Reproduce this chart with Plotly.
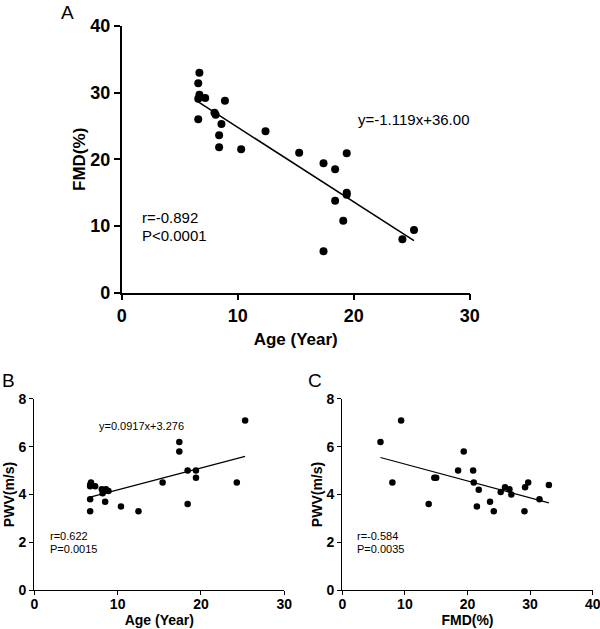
import plotly.graph_objects as go

FONT = "Liberation Sans, Arial, Helvetica, sans-serif"

# Panel A: Age vs FMD
age_a = [6.7, 6.6, 6.7, 6.6, 7.2, 6.6, 8.9, 8.0, 8.1, 8.6, 8.4, 8.4, 10.3, 12.4,
         15.3, 17.4, 18.4, 19.4, 18.4, 19.4, 19.4, 19.1, 17.4, 24.2, 25.2]
fmd_a = [33.0, 31.4, 29.7, 29.1, 29.2, 26.0, 28.8, 27.0, 26.7, 25.3, 23.6, 21.8, 21.5, 24.2,
         21.0, 19.4, 18.5, 20.9, 13.8, 15.0, 14.7, 10.8, 6.2, 8.0, 9.4]

# Panel B: Age vs PWV
age_b = [6.8, 6.7, 6.7, 7.3, 6.7, 6.7, 8.1, 8.6, 8.4, 8.2, 8.5, 8.9, 10.4, 12.5,
         15.4, 17.4, 17.4, 18.4, 19.4, 19.4, 18.4, 24.3, 25.3]
pwv_b = [4.5, 4.4, 4.35, 4.35, 3.8, 3.3, 4.22, 4.22, 4.15, 4.05, 3.7, 4.15, 3.5, 3.3,
         4.5, 6.2, 5.8, 5.0, 5.0, 4.7, 3.6, 4.5, 7.1]

# Panel C: FMD vs PWV
fmd_c = [6.1, 9.4, 8.0, 13.8, 14.7, 15.0, 18.5, 19.4, 20.9, 21.0, 21.5, 21.8, 23.6, 24.2,
         25.3, 26.0, 26.7, 27.0, 29.2, 29.1, 29.7, 31.5, 33.0]
pwv_c = [6.2, 7.1, 4.5, 3.6, 4.7, 4.7, 5.0, 5.8, 5.0, 4.5, 3.5, 4.2, 3.7, 3.3,
         4.1, 4.3, 4.22, 4.0, 4.3, 3.3, 4.5, 3.8, 4.4]

# Regression lines (slope, intercept)
fit_a = (-1.119, 36.00)
fit_b = (0.0917, 3.276)
fit_c = (-0.0706, 5.98)

panel_labels = ["A", "B", "C"]
eq_a = "y=-1.119x+36.00"
eq_b = "y=0.0917x+3.276"
stats_a = ["r=-0.892", "P<0.0001"]
stats_b = ["r=0.622", "P=0.0015"]
stats_c = ["r=-0.584", "P=0.0035"]

fig = go.Figure()


def add_panel(xs, ys, fit, xa, ya, msize, lw):
    fig.add_trace(go.Scatter(x=xs, y=ys, mode="markers", xaxis=xa, yaxis=ya,
                             marker=dict(color="black", size=msize),
                             showlegend=False, hoverinfo="x+y", cliponaxis=False))
    x0, x1 = min(xs), max(xs)
    m, b = fit
    fig.add_trace(go.Scatter(x=[x0, x1], y=[m * x0 + b, m * x1 + b], mode="lines",
                             xaxis=xa, yaxis=ya, line=dict(color="black", width=lw),
                             showlegend=False, hoverinfo="skip"))


add_panel(age_a, fmd_a, fit_a, "x", "y", 8, 1.5)
add_panel(age_b, pwv_b, fit_b, "x2", "y2", 6.5, 1.2)
add_panel(fmd_c, pwv_c, fit_c, "x3", "y3", 6.5, 1.2)


def axis(domain, rng, dtick, title, anchor, big, standoff, lblstand=0):
    return dict(
        domain=domain, range=rng, dtick=dtick, tick0=0, anchor=anchor,
        automargin=False, ticklabeloverflow="allow", ticklabelstandoff=lblstand,
        showgrid=False, zeroline=False, showline=True, linecolor="black",
        linewidth=1.5 if big else 1.2, ticks="outside", ticklen=6 if big else 4,
        tickwidth=1.5 if big else 1.2, tickcolor="black",
        tickfont=dict(family=FONT, size=18 if big else 14, color="black", weight="bold"),
        title=dict(text=title, font=dict(family=FONT, size=17 if big else 14,
                                         color="black", weight="bold"),
                   standoff=standoff),
        fixedrange=True,
    )


fig.update_layout(
    width=600, height=629,
    margin=dict(l=0, r=0, t=0, b=0),
    paper_bgcolor="white", plot_bgcolor="white",
    font=dict(family=FONT, color="black"),
    xaxis=axis([0.2028, 0.7828], [0, 30], 10, "Age (Year)", "y", True, 8),
    yaxis=axis([0.5347, 0.9587], [0, 40], 10, "FMD(%)", "x", True, 0),
    xaxis2=axis([0.0572, 0.4738], [0, 30], 10, "Age (Year)", "y2", False, 1, -3),
    yaxis2=axis([0.062, 0.3657], [0, 8], 2, "PWV(m/s)", "x2", False, 0),
    xaxis3=axis([0.5705, 0.9878], [0, 40], 10, "FMD(%)", "y3", False, 1, -3),
    yaxis3=axis([0.062, 0.3657], [0, 8], 2, "PWV(m/s)", "x3", False, 0),
)

ann = []
# panel letters
for lab, px, py in zip(panel_labels, [67, 8, 315], [12, 380, 380]):
    ann.append(dict(text=lab, x=px / 600, y=1 - py / 629, xref="paper", yref="paper",
                    showarrow=False, font=dict(family=FONT, size=19, color="black"),
                    xanchor="center", yanchor="middle"))
# panel A texts
ann.append(dict(text=eq_a, x=20.2, y=25.9, xref="x", yref="y", showarrow=False,
                xanchor="left", yanchor="middle", font=dict(family=FONT, size=15)))
for t, yy in zip(stats_a, [11.2, 8.5]):
    ann.append(dict(text=t, x=1.58, y=yy, xref="x", yref="y", showarrow=False,
                    xanchor="left", yanchor="middle", font=dict(family=FONT, size=15)))
# panel B texts
ann.append(dict(text=eq_b, x=12.86, y=6.87, xref="x2", yref="y2", showarrow=False,
                xanchor="center", yanchor="middle", font=dict(family=FONT, size=11)))
for t, yy in zip(stats_b, [2.27, 1.70]):
    ann.append(dict(text=t, x=1.68, y=yy, xref="x2", yref="y2", showarrow=False,
                    xanchor="left", yanchor="middle", font=dict(family=FONT, size=11)))
# panel C texts
for t, yy in zip(stats_c, [2.27, 1.70]):
    ann.append(dict(text=t, x=2.03, y=yy, xref="x3", yref="y3", showarrow=False,
                    xanchor="left", yanchor="middle", font=dict(family=FONT, size=11)))
fig.update_layout(annotations=ann)

fig.write_html(
    "out.html",
    config={"displayModeBar": False},
    post_script="document.body.style.margin='0';document.body.style.overflow='hidden';",
)
